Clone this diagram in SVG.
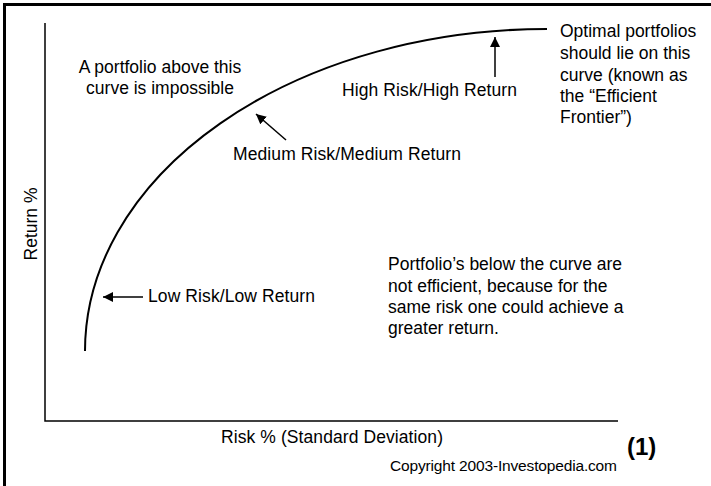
<svg xmlns="http://www.w3.org/2000/svg" width="711" height="486" viewBox="0 0 711 486">
<defs>
<marker id="ah" viewBox="0 0 10 10" refX="10" refY="5" markerWidth="10" markerHeight="10" markerUnits="userSpaceOnUse" orient="auto">
<path d="M0,0 L10,5 L0,10 z" fill="#000"/>
</marker>
<style>
text{font-family:"Liberation Sans",Arial,sans-serif;font-size:17.5px;fill:#000}
.ax{stroke:#000;stroke-width:1.5;fill:none}
.arr{stroke:#000;stroke-width:1.5;fill:none;marker-end:url(#ah)}
</style>
</defs>
<rect width="711" height="486" fill="#fff"/>
<path d="M4.5,486 V4.5 H711" stroke="#000" stroke-width="3" fill="none"/>
<g id="axes">
<path class="ax" d="M45,23 V421 H618"/>
<text id="ylabel" transform="translate(37,224) rotate(-90)" text-anchor="middle">Return %</text>
<text id="xlabel" x="221" y="443" textLength="222">Risk % (Standard Deviation)</text>
</g>
<g id="frontier">
<path d="M85,351 A462,322 0 0,1 547,29" stroke="#000" stroke-width="2" fill="none"/>
</g>
<g id="connectors">
<line class="arr" x1="286" y1="140" x2="256" y2="114"/>
<line class="arr" x1="495" y1="77" x2="495" y2="37"/>
<line class="arr" x1="143" y1="297" x2="103" y2="297"/>
</g>
<g id="impossible">
<text x="160" y="73" text-anchor="middle">A portfolio above this</text>
<text x="160" y="94" text-anchor="middle">curve is impossible</text>
</g>
<g id="high"><text x="342" y="96" textLength="175">High Risk/High Return</text></g>
<g id="medium"><text x="233" y="160" textLength="228">Medium Risk/Medium Return</text></g>
<g id="low"><text x="148" y="302" textLength="167">Low Risk/Low Return</text></g>
<g id="optimal">
<text x="560" y="37">Optimal portfolios</text>
<text x="560" y="59">should lie on this</text>
<text x="560" y="81">curve (known as</text>
<text x="560" y="102">the “Efficient</text>
<text x="560" y="123">Frontier”)</text>
</g>
<g id="below">
<text x="388" y="270">Portfolio’s below the curve are</text>
<text x="388" y="292">not efficient, because for the</text>
<text x="388" y="313">same risk one could achieve a</text>
<text x="388" y="334">greater return.</text>
</g>
<g id="footer">
<text x="627" y="455" style="font-size:24px;font-weight:bold">(1)</text>
<text x="390" y="471" style="font-size:15.5px" textLength="227">Copyright 2003-Investopedia.com</text>
</g>
</svg>
